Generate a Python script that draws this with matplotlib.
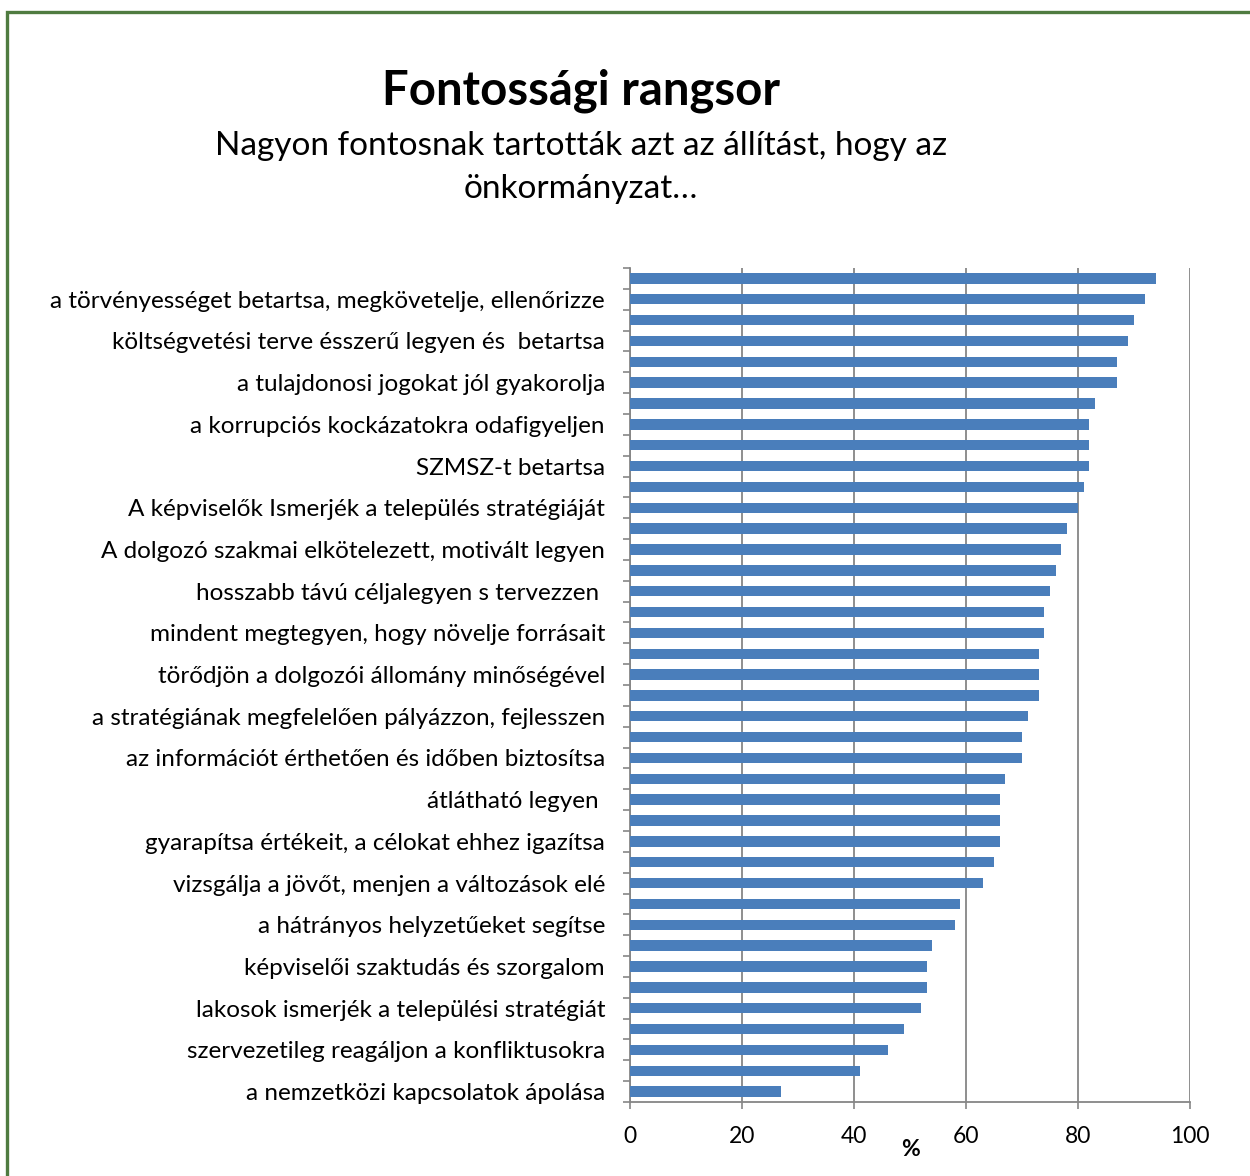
import numpy as np
import matplotlib
matplotlib.use('Agg')
import matplotlib.pyplot as plt
from matplotlib.patches import Rectangle

# values read top to bottom (40 bars, every second one labelled)
values = [94, 92, 90, 89, 87, 87, 83, 82, 82, 82,
          81, 80, 78, 77, 76, 75, 74, 74, 73, 73,
          73, 71, 70, 70, 67, 66, 66, 66, 65, 63,
          59, 58, 54, 53, 53, 52, 49, 46, 41, 27]

# labels belong to bars 2, 4, ..., 40 from the top
labels = [
    "a törvényességet betartsa, megkövetelje, ellenőrizze",
    "költségvetési terve ésszerű legyen és  betartsa",
    "a tulajdonosi jogokat jól gyakorolja",
    "a korrupciós kockázatokra odafigyeljen",
    "SZMSZ-t betartsa",
    "A képviselők Ismerjék a település stratégiáját",
    "A dolgozó szakmai elkötelezett, motivált legyen",
    "hosszabb távú céljalegyen s tervezzen ",
    "mindent megtegyen, hogy növelje forrásait",
    "törődjön a dolgozói állomány minőségével",
    "a stratégiának megfelelően pályázzon, fejlesszen",
    "az információt érthetően és időben biztosítsa",
    "átlátható legyen ",
    "gyarapítsa értékeit, a célokat ehhez igazítsa",
    "vizsgálja a jövőt, menjen a változások elé",
    "a hátrányos helyzetűeket segítse",
    "képviselői szaktudás és szorgalom",
    "lakosok ismerjék a települési stratégiát",
    "szervezetileg reagáljon a konfliktusokra",
    "a nemzetközi kapcsolatok ápolása",
]

xticks = [0, 20, 40, 60, 80, 100]

plt.rcParams['font.family'] = ['Lato', 'DejaVu Sans']

grey = '#868686'
blue = '#4A7EBB'

fig = plt.figure(figsize=(12.5, 11.76), dpi=100)

# green frame
fig.patches.append(Rectangle((7 / 1250, -0.1), 1.2, 1 - 12 / 1176 + 0.1,
                             transform=fig.transFigure, fill=False,
                             edgecolor='#4F7B40', linewidth=2.4))

fig.text(0.465, 1 - 91 / 1176, "Fontossági rangsor", ha='center', va='center',
         fontsize=34, fontweight='bold')
fig.text(0.465, 1 - 146 / 1176, "Nagyon fontosnak tartották azt az állítást, hogy az",
         ha='center', va='center', fontsize=24)
fig.text(0.465, 1 - 189 / 1176, "önkormányzat…", ha='center', va='center',
         fontsize=24)

ax = fig.add_axes([630 / 1250, 1 - 1102 / 1176, 560 / 1250, 834 / 1176])

n = len(values)
ypos = np.arange(n)
ax.barh(ypos, values[::-1], height=0.5, color=blue, zorder=3)

ax.set_xlim(0, 100)
ax.set_ylim(-0.5, n - 0.5)
ax.set_xticks(xticks)
ax.set_xticklabels([str(t) for t in xticks], fontsize=16.5)

label_pos = [n - 2 - 2 * i for i in range(len(labels))]
ax.set_yticks(label_pos)
ax.set_yticklabels(labels, fontsize=17.5)
ax.set_yticks(np.arange(-0.5, n, 1.0), minor=True)

ax.tick_params(axis='y', which='major', length=0, pad=18)
ax.tick_params(axis='y', which='minor', length=5, color=grey, width=1.2)
ax.tick_params(axis='x', length=5, color=grey, width=1.2, pad=12)

ax.grid(axis='x', color=grey, linewidth=1.3, zorder=0)
for s in ['top', 'right']:
    ax.spines[s].set_visible(False)
for s in ['left', 'bottom']:
    ax.spines[s].set_color(grey)
    ax.spines[s].set_linewidth(1.3)

ax.text(50, -0.057, "%", transform=ax.get_xaxis_transform(), ha='center',
        va='center', fontsize=16.5, fontweight='bold')

fig.savefig("out.png", dpi=100)
